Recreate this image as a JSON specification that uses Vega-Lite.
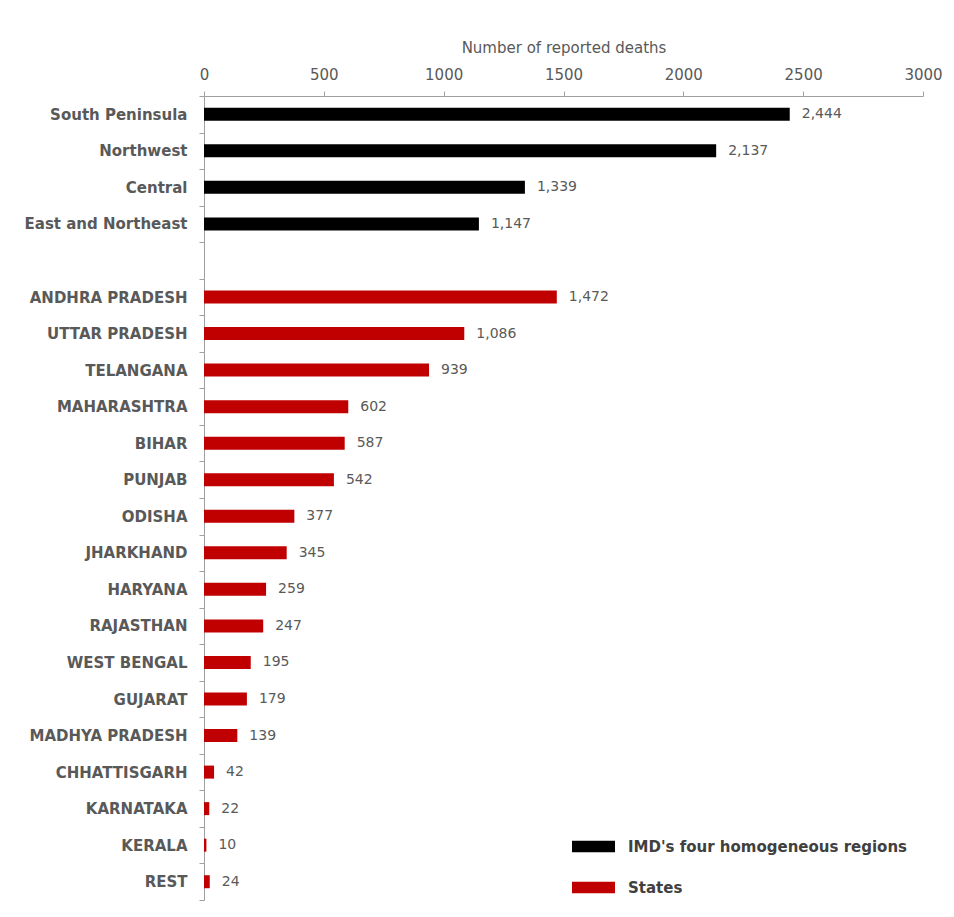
{
  "$schema": "https://vega.github.io/schema/vega-lite/v6.json",
  "autosize": {"type": "none"},
  "padding": {"left": 204, "top": 96, "right": 31, "bottom": 17},
  "width": 719,
  "height": 804,
  "background": "white",
  "config": {
    "view": {"stroke": null},
    "font": "DejaVu Sans"
  },
  "data": {
    "values": [
      {"name": "South Peninsula", "value": 2444, "group": "IMD's four homogeneous regions"},
      {"name": "Northwest", "value": 2137, "group": "IMD's four homogeneous regions"},
      {"name": "Central", "value": 1339, "group": "IMD's four homogeneous regions"},
      {"name": "East and Northeast", "value": 1147, "group": "IMD's four homogeneous regions"},
      {"name": "ANDHRA PRADESH", "value": 1472, "group": "States"},
      {"name": "UTTAR PRADESH", "value": 1086, "group": "States"},
      {"name": "TELANGANA", "value": 939, "group": "States"},
      {"name": "MAHARASHTRA", "value": 602, "group": "States"},
      {"name": "BIHAR", "value": 587, "group": "States"},
      {"name": "PUNJAB", "value": 542, "group": "States"},
      {"name": "ODISHA", "value": 377, "group": "States"},
      {"name": "JHARKHAND", "value": 345, "group": "States"},
      {"name": "HARYANA", "value": 259, "group": "States"},
      {"name": "RAJASTHAN", "value": 247, "group": "States"},
      {"name": "WEST BENGAL", "value": 195, "group": "States"},
      {"name": "GUJARAT", "value": 179, "group": "States"},
      {"name": "MADHYA PRADESH", "value": 139, "group": "States"},
      {"name": "CHHATTISGARH", "value": 42, "group": "States"},
      {"name": "KARNATAKA", "value": 22, "group": "States"},
      {"name": "KERALA", "value": 10, "group": "States"},
      {"name": "REST", "value": 24, "group": "States"}
    ]
  },
  "encoding": {
    "y": {
      "field": "name",
      "type": "nominal",
      "scale": {
        "domain": ["South Peninsula", "Northwest", "Central", "East and Northeast", " ", "ANDHRA PRADESH", "UTTAR PRADESH", "TELANGANA", "MAHARASHTRA", "BIHAR", "PUNJAB", "ODISHA", "JHARKHAND", "HARYANA", "RAJASTHAN", "WEST BENGAL", "GUJARAT", "MADHYA PRADESH", "CHHATTISGARH", "KARNATAKA", "KERALA", "REST"],
        "paddingInner": 0,
        "paddingOuter": 0
      },
      "axis": {
        "title": null,
        "tickBand": "extent",
        "tickSize": 5,
        "tickColor": "#a0a0a0",
        "domainColor": "#a0a0a0",
        "labelPadding": 12,
        "labelFontSize": 15,
        "labelFontWeight": "bold",
        "labelColor": "#595959",
        "labelFont": "DejaVu Sans"
      }
    },
    "x": {
      "field": "value",
      "type": "quantitative",
      "scale": {"domain": [0, 3000], "nice": false},
      "axis": {
        "orient": "top",
        "title": "Number of reported deaths",
        "titleFontSize": 15,
        "titleFontWeight": "normal",
        "titleColor": "#595959",
        "titlePadding": 12,
        "values": [0, 500, 1000, 1500, 2000, 2500, 3000],
        "format": "d",
        "grid": false,
        "tickSize": 5,
        "tickColor": "#a0a0a0",
        "domainColor": "#a0a0a0",
        "labelFontSize": 15,
        "labelColor": "#595959",
        "labelPadding": 9,
        "labelFlush": false
      }
    }
  },
  "layer": [
    {
      "mark": {"type": "bar", "height": 13},
      "encoding": {
        "color": {
          "field": "group",
          "type": "nominal",
          "scale": {"domain": ["IMD's four homogeneous regions", "States"], "range": ["#000000", "#c00000"]},
          "legend": {
            "title": null,
            "orient": "none",
            "legendX": 368,
            "legendY": 729,
            "symbolType": "M-1,-0.27H1V0.27H-1Z",
            "symbolSize": 1849,
            "symbolStrokeWidth": 0,
            "symbolOpacity": 1,
            "labelFontSize": 15,
            "labelFontWeight": "bold",
            "labelColor": "#404040",
            "labelOffset": 13,
            "rowPadding": 11,
            "labelLimit": 400
          }
        }
      }
    },
    {
      "mark": {"type": "text", "align": "left", "baseline": "middle", "dx": 12, "fontSize": 14, "color": "#595959"},
      "encoding": {
        "text": {"field": "value", "type": "quantitative", "format": ","}
      }
    }
  ]
}
